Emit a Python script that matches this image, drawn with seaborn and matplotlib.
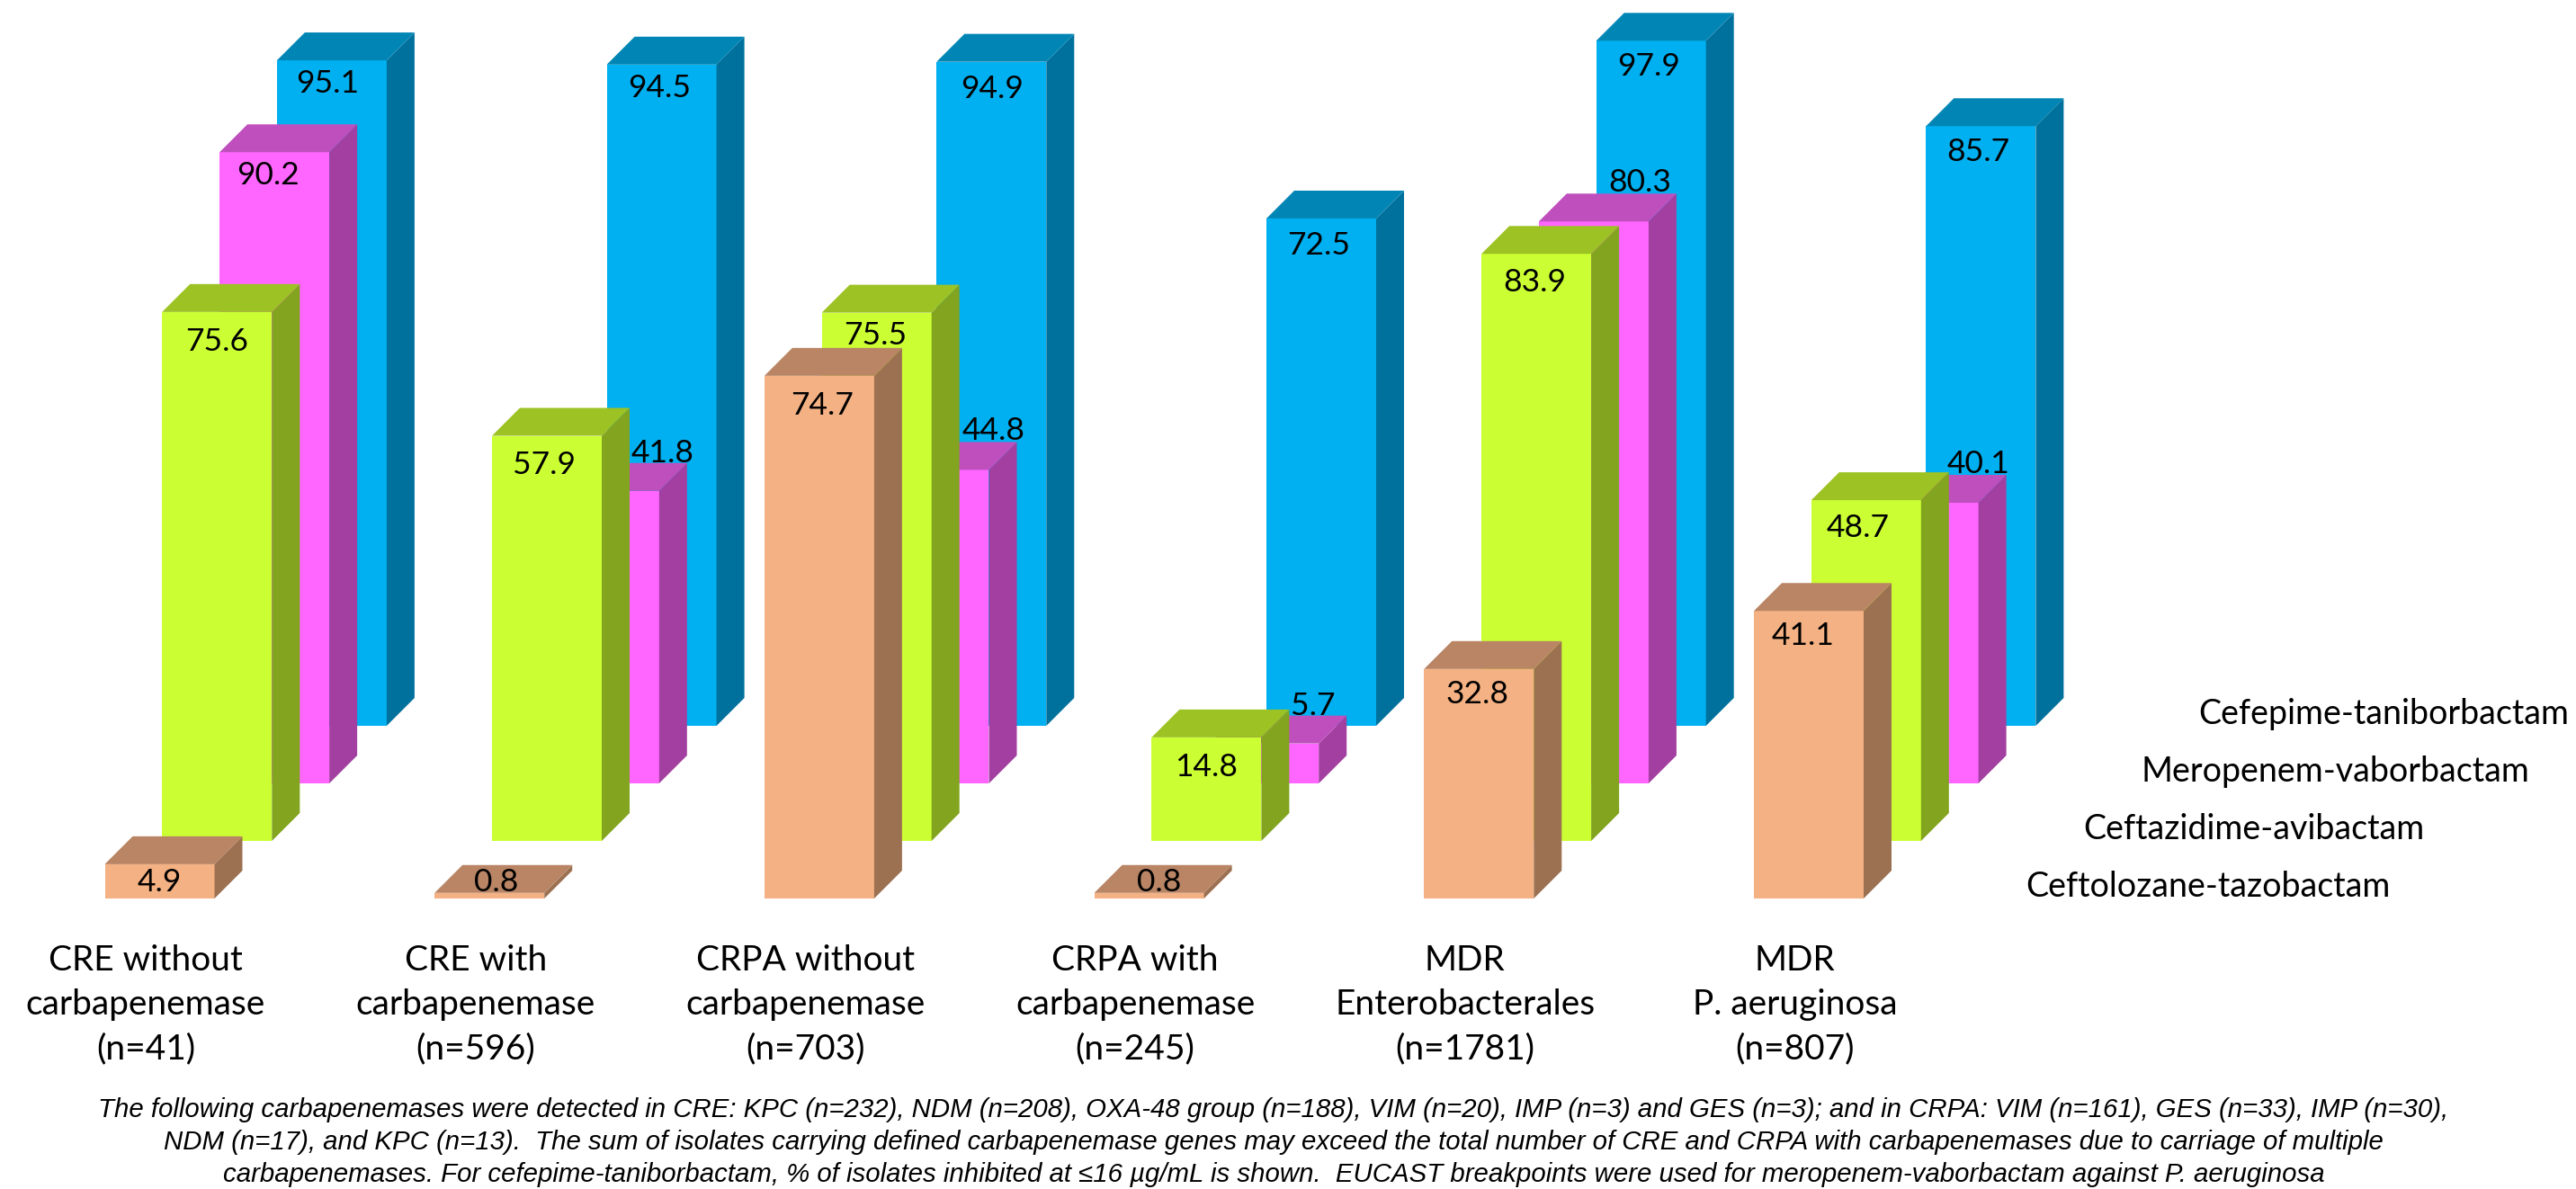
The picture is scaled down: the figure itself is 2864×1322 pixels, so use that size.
import matplotlib
matplotlib.use("Agg")
import matplotlib.pyplot as plt
from matplotlib.patches import Polygon
import pandas as pd
import seaborn as sns

# ---- data -------------------------------------------------------------
CATEGORIES = [
    "CRE without\ncarbapenemase\n(n=41)",
    "CRE with\ncarbapenemase\n(n=596)",
    "CRPA without\ncarbapenemase\n(n=703)",
    "CRPA with\ncarbapenemase\n(n=245)",
    "MDR\nEnterobacterales\n(n=1781)",
    "MDR\nP. aeruginosa\n(n=807)",
]
DRUGS = [
    "Ceftolozane-tazobactam",
    "Ceftazidime-avibactam",
    "Meropenem-vaborbactam",
    "Cefepime-taniborbactam",
]
ceftolozane_tazobactam = [4.9, 0.8, 74.7, 0.8, 32.8, 41.1]
ceftazidime_avibactam = [75.6, 57.9, 75.5, 14.8, 83.9, 48.7]
meropenem_vaborbactam = [90.2, 41.8, 44.8, 5.7, 80.3, 40.1]
cefepime_taniborbactam = [95.1, 94.5, 94.9, 72.5, 97.9, 85.7]
SERIES = [ceftolozane_tazobactam, ceftazidime_avibactam,
          meropenem_vaborbactam, cefepime_taniborbactam]

FOOTNOTE = (
    "The following carbapenemases were detected in CRE: KPC (n=232), NDM (n=208), "
    "OXA-48 group (n=188), VIM (n=20), IMP (n=3) and GES (n=3); and in CRPA: VIM (n=161), "
    "GES (n=33), IMP (n=30),\n"
    "NDM (n=17), and KPC (n=13).  The sum of isolates carrying defined carbapenemase genes "
    "may exceed the total number of CRE and CRPA with carbapenemases due to carriage of multiple\n"
    "carbapenemases. For cefepime-taniborbactam, % of isolates inhibited at \u226416 \u00b5g/mL "
    "is shown.  EUCAST breakpoints were used for meropenem-vaborbactam against P. aeruginosa"
)

# ---- styling ----------------------------------------------------------
FRONT = ["#F4B183", "#CCFF33", "#FF66FF", "#00B0F0"]
TOP = ["#B98565", "#9DC224", "#C04FBE", "#0085B5"]
SIDE = ["#9C7152", "#82A41F", "#A33FA0", "#00719C"]

W, H = 2864, 1322
PX_PER_GROUP = 366.7
PX_PER_PERCENT = 7.78
BASE_PX = 999.0          # front-bottom edge of the nearest row
ROW_SHIFT_X_PX = 63.8    # oblique shift between rows, sideways
ROW_SHIFT_Y_PX = 64.0    # oblique shift between rows, upwards
BAR_PX = 122.0
DEPTH_PX = 31.0
FIRST_CENTRE_PX = 177.5

# Pixel nudges of each value label from the middle of its bar's front top edge
LABEL_NUDGE = [
    [(0, 20), (7, -12), (3, 33), (11, -12), (-2, 28), (-6, 28)],
    [(0, 33), (-3, 32), (-2, 25), (0, 33), (-2, 32), (-9, 31)],
    [(-7, 26), (65, -42), (66, -43), (55, -42), (51, -43), (61, -43)],
    [(-5, 26), (-2, 26), (1, 30), (-3, 30), (-3, 29), (-3, 29)],
]

sns.set_theme(style="white")
plt.rcParams["font.family"] = ["Lato", "DejaVu Sans"]

fig = plt.figure(figsize=(W / 100, H / 100), dpi=100, facecolor="white")
ax = fig.add_axes([0, 0, 1, 1])

row_dx = ROW_SHIFT_X_PX / PX_PER_GROUP
row_dy = ROW_SHIFT_Y_PX / PX_PER_PERCENT
depth_dx = DEPTH_PX / PX_PER_GROUP
depth_dy = DEPTH_PX / PX_PER_PERCENT
bar_w = BAR_PX / PX_PER_GROUP

# The rows are drawn back to front so nearer bars cover farther ones
for k in reversed(range(len(SERIES))):
    frame = pd.DataFrame({
        "position": [g + k * row_dx for g in range(len(CATEGORIES))],
        "percent": SERIES[k],
    })
    floor = k * row_dy
    sns.barplot(data=frame, x="position", y="percent", native_scale=True,
                width=bar_w, color=FRONT[k], saturation=1, errorbar=None,
                bottom=floor, linewidth=0, ax=ax)
    for x, v in zip(frame["position"], frame["percent"]):
        left, right = x - bar_w / 2, x + bar_w / 2
        top = floor + v
        ax.add_patch(Polygon(
            [(right, floor), (right + depth_dx, floor + depth_dy),
             (right + depth_dx, top + depth_dy), (right, top)],
            closed=True, facecolor=SIDE[k], edgecolor="none"))
        ax.add_patch(Polygon(
            [(left, top), (left + depth_dx, top + depth_dy),
             (right + depth_dx, top + depth_dy), (right, top)],
            closed=True, facecolor=TOP[k], edgecolor="none"))

ax.set_xlim(-FIRST_CENTRE_PX / PX_PER_GROUP, (W - FIRST_CENTRE_PX) / PX_PER_GROUP)
ax.set_ylim(-(H - BASE_PX) / PX_PER_PERCENT, BASE_PX / PX_PER_PERCENT)
ax.set_axis_off()

# Value labels
for k, values in enumerate(SERIES):
    for g, v in enumerate(values):
        nx, ny = LABEL_NUDGE[k][g]
        ax.annotate(f"{v:.1f}", xy=(g + k * row_dx, k * row_dy + v),
                    xytext=(nx, -ny), textcoords="offset pixels",
                    ha="center", va="center", fontsize=25.5, color="black", zorder=10)

# Category labels under the groups
for g, label in enumerate(CATEGORIES):
    fig.text((162 + g * PX_PER_GROUP) / W, 1 - 1117 / H, label, ha="center", va="center",
             fontsize=28, linespacing=1.46, color="black")

# Row names at the right, stepping back with the rows
for k, name in enumerate(DRUGS):
    fig.text((2252 + k * 64) / W, 1 - (986 - k * ROW_SHIFT_Y_PX) / H, name,
             ha="left", va="center", fontsize=27.1, color="black")

# Footnote
fig.text(1416 / W, 1 - 1270 / H, FOOTNOTE, ha="center", va="center", fontsize=21.15,
         style="italic", family=["Liberation Sans", "DejaVu Sans"], linespacing=1.36,
         color="black")

fig.savefig("out.png", dpi=100, facecolor="white")
